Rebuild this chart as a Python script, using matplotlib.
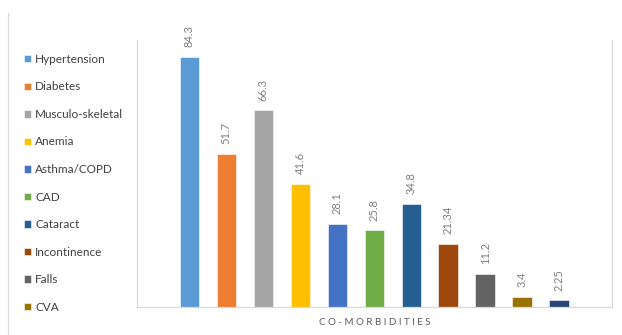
"""
Co-morbidities bar chart (percentages), rebuilt with matplotlib.
"""
import matplotlib.pyplot as plt
from matplotlib.lines import Line2D

# data
categories = ["Hypertension", "Diabetes", "Musculo-skeletal", "Anemia",
              "Asthma/COPD", "CAD", "Cataract", "Incontinence", "Falls",
              "CVA", "Other"]
values = [84.3, 51.7, 66.3, 41.6, 28.1, 25.8, 34.8, 21.34, 11.2, 3.4, 2.25]
value_labels = ["84.3", "51.7", "66.3", "41.6", "28.1", "25.8", "34.8",
                "21.34", "11.2", "3.4", "2.25"]
colors = ["#5B9BD5", "#ED7D31", "#A5A5A5", "#FFC000", "#4472C4", "#70AD47",
          "#255E91", "#9E480E", "#636363", "#997300", "#264478"]
n_legend = 10  # the last category is not shown in the legend

plt.rcParams['font.family'] = ['Lato', 'DejaVu Sans']

fig = plt.figure(figsize=(6.22, 3.35), dpi=100)
ax = fig.add_axes([137 / 622, 1 - 307 / 335, 475 / 622, 267 / 335])

x = list(range(len(values)))
bars = ax.bar(x, values, width=0.52, color=colors, edgecolor='white',
              linewidth=0.4, zorder=2)

for xi, v, lab in zip(x, values, value_labels):
    ax.annotate(lab, (xi, v), xytext=(0, 7), textcoords='offset points',
                rotation=90, ha='center', va='bottom', fontsize=8,
                color='#7F7F7F')

ax.set_xlim(-1.41, 11.43)
ax.set_ylim(0, 90)
ax.set_xticks([])
ax.set_yticks([])
for side in ['left', 'right', 'bottom']:
    ax.spines[side].set_color('#D9D9D9')
    ax.spines[side].set_linewidth(0.9)
ax.spines['top'].set_visible(False)

ax.set_xlabel("C O - M O R B I D I T I E S", fontsize=7, color='#595959',
              labelpad=8)

# legend on the left side
handles = [bars[i] for i in range(n_legend)]
leg = fig.legend(handles, categories[:n_legend], loc='upper left',
                 bbox_to_anchor=(18 / 622, 1 - 48 / 335), frameon=False,
                 fontsize=8.5, handlelength=0.6, handleheight=0.6,
                 handletextpad=0.35, labelspacing=1.40, borderpad=0)
for t in leg.get_texts():
    t.set_color('#404040')

# outer frame line on the left edge
fig.add_artist(Line2D([8 / 622, 8 / 622], [0, 1 - 13 / 335],
                      color='#D9D9D9', linewidth=0.9))

fig.savefig("out.png", dpi=100)
